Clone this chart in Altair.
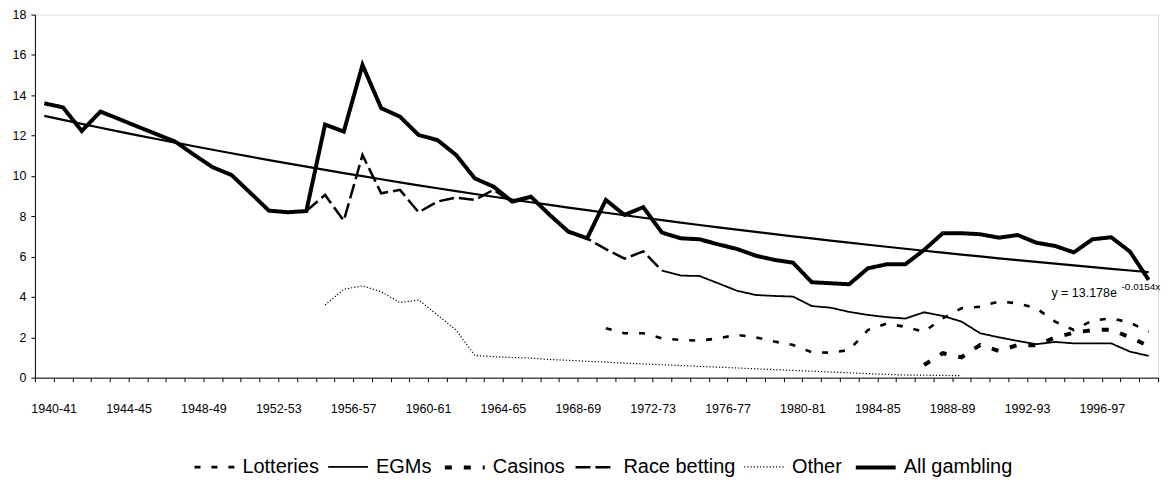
import altair as alt
import numpy as np
import pandas as pd

# ---- category labels (financial years) ----
categories = [
    "1940-41", "1941-42", "1942-43", "1943-44", "1944-45", "1945-46", "1946-47", "1947-48",
    "1948-49", "1949-50", "1950-51", "1951-52", "1952-53", "1953-54", "1954-55", "1955-56",
    "1956-57", "1957-58", "1958-59", "1959-60", "1960-61", "1961-62", "1962-63", "1963-64",
    "1964-65", "1965-66", "1966-67", "1967-68", "1968-69", "1969-70", "1970-71", "1971-72",
    "1972-73", "1973-74", "1974-75", "1975-76", "1976-77", "1977-78", "1978-79", "1979-80",
    "1980-81", "1981-82", "1982-83", "1983-84", "1984-85", "1985-86", "1986-87", "1987-88",
    "1988-89", "1989-90", "1990-91", "1991-92", "1992-93", "1993-94", "1994-95", "1995-96",
    "1996-97", "1997-98", "1998-99", "1999-00",
]
# axis labels shown every fourth year
tick_labels = ["1940-41", "1944-45", "1948-49", "1952-53", "1956-57", "1960-61", "1964-65",
               "1968-69", "1972-73", "1976-77", "1980-81", "1984-85", "1988-89", "1992-93",
               "1996-97"]

N = None
all_gambling = [
    13.6, 13.4, 12.23, 13.19, 12.82, 12.44, 12.07, 11.7, 11.05, 10.43,
    10.05, 9.17, 8.28, 8.2, 8.26, 12.55, 12.2, 15.5, 13.36, 12.94,
    12.03, 11.78, 11.04, 9.88, 9.47, 8.73, 8.97, 8.07, 7.24, 6.91,
    8.81, 8.07, 8.45, 7.19, 6.91, 6.86, 6.61, 6.38, 6.05, 5.84,
    5.70, 4.73, 4.68, 4.63, 5.42, 5.62, 5.62, 6.33, 7.16, 7.16,
    7.11, 6.94, 7.07, 6.69, 6.53, 6.21, 6.86, 6.96, 6.25, 4.85,
]
race_betting = [N] * 14 + [
    8.26, 9.06, 7.78, 11.04, 9.14, 9.31, 8.2, 8.73, 8.93, 8.81,
    9.31, 8.7, 8.95, 8.05, 7.2, 6.9, 6.37, 5.9, 6.26, 5.31,
] + [N] * 26
egms = [N] * 33 + [
    5.31, 5.06, 5.04, 4.68, 4.31, 4.1, 4.05, 4.02, 3.55, 3.47,
    3.26, 3.11, 3.0, 2.93, 3.24, 3.06, 2.78, 2.2, 2.0, 1.82,
    1.66, 1.77, 1.7, 1.7, 1.7, 1.29, 1.08,
]
lotteries = [N] * 30 + [
    2.45, 2.2, 2.2, 1.95, 1.87, 1.83, 1.95, 2.12, 2.0, 1.79,
    1.62, 1.26, 1.24, 1.37, 2.36, 2.68, 2.52, 2.28, 2.94, 3.44,
    3.52, 3.77, 3.69, 3.44, 2.78, 2.36, 2.83, 2.94, 2.73, 2.28,
]
casinos = [N] * 47 + [
    0.63, 1.21, 1.01, 1.62, 1.32, 1.62, 1.6, 1.99, 2.23, 2.36, 2.38, 2.0, 1.57,
]
other = [N] * 15 + [
    3.6, 4.38, 4.55, 4.26, 3.72, 3.85, 3.11, 2.36, 1.1, 1.04,
    1.0, 0.97, 0.9, 0.86, 0.81, 0.77, 0.72, 0.68, 0.64, 0.6,
    0.56, 0.52, 0.48, 0.44, 0.4, 0.36, 0.32, 0.28, 0.24, 0.2,
    0.16, 0.13, 0.12, 0.11, 0.1,
] + [N] * 10

series_names = ["Lotteries", "EGMs", "Casinos", "Race betting", "Other", "All gambling"]
series_values = [lotteries, egms, casinos, race_betting, other, all_gambling]

# exponential trendline as printed on the chart
trend_a = 13.178
trend_b = -0.0154
trend_label = "y = 13.178e"
trend_exp_label = "-0.0154x"

# ---- build tables ----
rows = []
for name, vals in zip(series_names, series_values):
    for i, v in enumerate(vals):
        if v is not None:
            rows.append({"series": name, "pos": i + 0.5, "value": v})
df = pd.DataFrame(rows)

xs = np.arange(1, len(categories) + 1)
trend_df = pd.DataFrame({"pos": xs - 0.5, "value": trend_a * np.exp(trend_b * xs)})

ann_main_df = pd.DataFrame({"pos": [57.8], "value": [4.2], "txt": [trend_label]})
ann_sup_df = pd.DataFrame({"pos": [58.05], "value": [4.5], "txt": [trend_exp_label]})

# axis label expression: label for category k drawn at tick k+1
expr = "''"
for lab in reversed(tick_labels):
    k = categories.index(lab)
    expr = "datum.value == %d ? '%s' : (%s)" % (k + 1, lab, expr)
label_expr = expr

FONT = "Liberation Sans"

dash_range = [[6, 11], [1, 0], [7, 12], [15, 5], [1.2, 2], [1, 0]]
width_range = [2.6, 1.8, 4, 2.5, 1.2, 4]

legend = alt.Legend(
    title=None, orient="none", legendX=158, legendY=432, direction="horizontal",
    columns=6, symbolType="stroke", symbolSize=1600, labelFontSize=20, labelFont=FONT,
    labelColor="black", labelOffset=6, columnPadding=5, labelLimit=0,
)

x_enc = alt.X(
    "pos:Q",
    scale=alt.Scale(domain=[0, 60], nice=False, zero=False),
    axis=alt.Axis(
        values=list(range(0, 61)), labelExpr=label_expr, title=None, grid=False,
        tickSize=4, labelPadding=21, labelFontSize=12.5, labelFont=FONT, labelColor="black",
        domainColor="black", tickColor="black", labelOverlap=False, labelFlush=False,
    ),
)
y_enc = alt.Y(
    "value:Q",
    scale=alt.Scale(domain=[0, 18], nice=False),
    axis=alt.Axis(
        values=list(range(0, 19, 2)), title=None, grid=False, tickSize=4, labelPadding=5,
        labelFontSize=12.5, labelFont=FONT, labelColor="black",
        domainColor="black", tickColor="black",
    ),
)

lines = alt.Chart(df).mark_line(strokeCap="butt", strokeJoin="miter").encode(
    x=x_enc,
    y=y_enc,
    color=alt.Color("series:N", scale=alt.Scale(domain=series_names, range=["#000000"] * 6), legend=legend),
    strokeDash=alt.StrokeDash("series:N", scale=alt.Scale(domain=series_names, range=dash_range), legend=legend),
    strokeWidth=alt.StrokeWidth("series:N", scale=alt.Scale(type="ordinal", domain=series_names, range=width_range), legend=legend),
    order=alt.Order("pos:Q"),
)

trend = alt.Chart(trend_df).mark_line(color="black", strokeWidth=2.2).encode(
    x=x_enc, y=y_enc
)

ann_main = alt.Chart(ann_main_df).mark_text(
    align="right", baseline="middle", fontSize=12.5, font=FONT, color="black"
).encode(x=x_enc, y=y_enc, text="txt:N")
ann_sup = alt.Chart(ann_sup_df).mark_text(
    align="left", baseline="middle", fontSize=10, font=FONT, color="black"
).encode(x=x_enc, y=y_enc, text="txt:N")

chart = alt.layer(trend, lines, ann_main, ann_sup).properties(
    width=1126, height=364,
    autosize=alt.AutoSizeParams(type="none"),
    padding={"left": 27, "top": 6, "right": 5, "bottom": 100},
    background="white",
).configure_view(stroke=None).configure(font=FONT)

chart.save("out.html", embed_options={"renderer": "svg", "actions": False})
